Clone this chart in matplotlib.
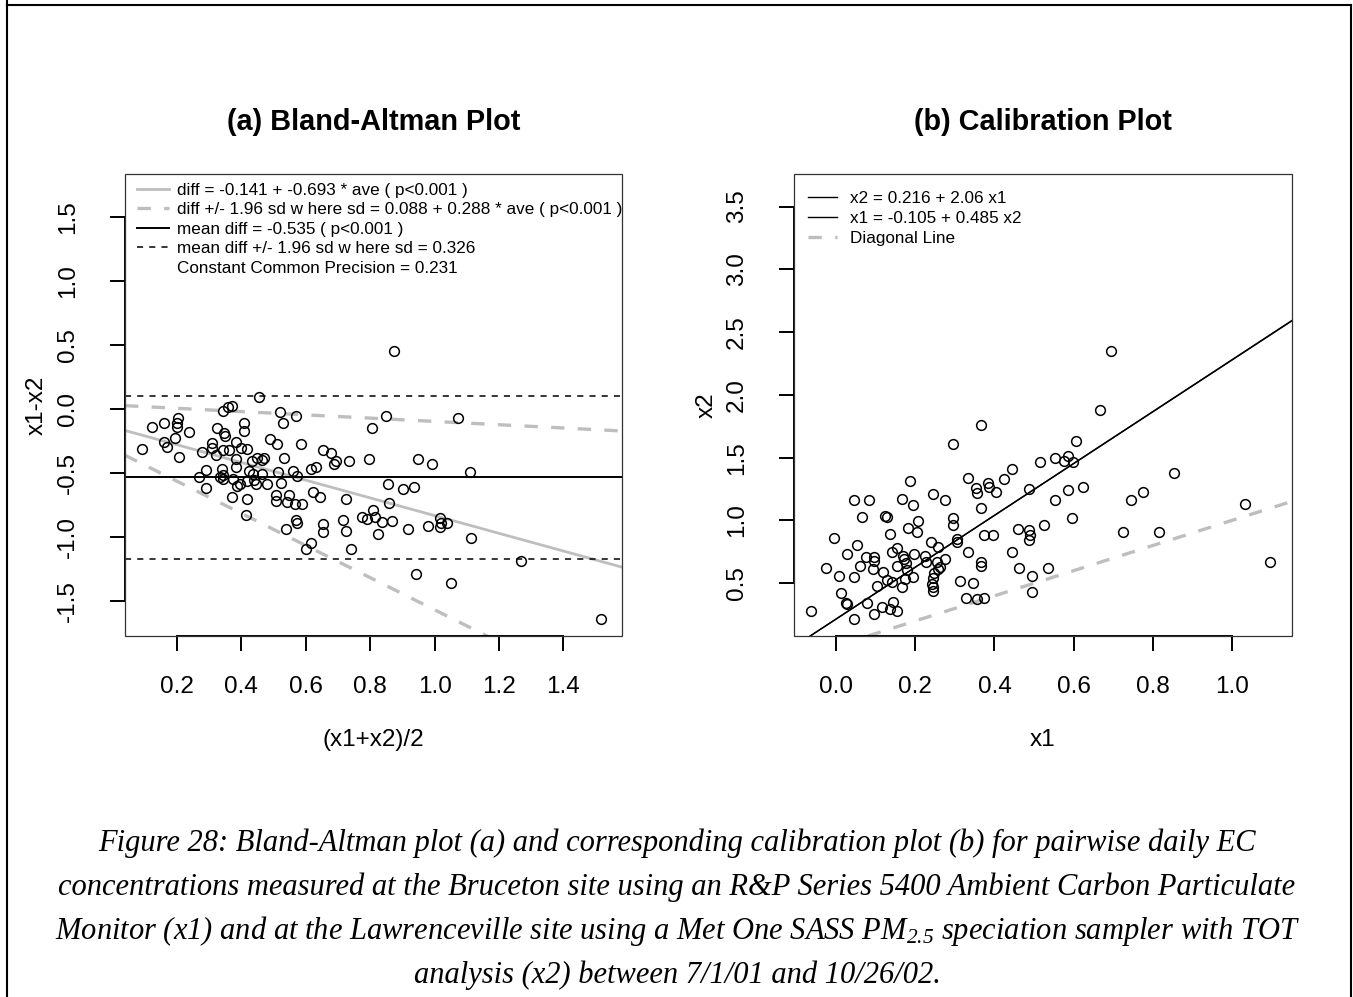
import matplotlib
matplotlib.use("Agg")
import matplotlib.pyplot as plt
from matplotlib.lines import Line2D
from matplotlib.patches import Rectangle

plt.rcParams["font.family"] = ["Liberation Sans", "DejaVu Sans"]
plt.rcParams["axes.unicode_minus"] = False
plt.rcParams["mathtext.fontset"] = "custom"
plt.rcParams["mathtext.rm"] = "Liberation Serif:italic"
plt.rcParams["mathtext.it"] = "Liberation Serif:italic"

# ---- data ----
# (a) Bland-Altman: average (x1+x2)/2 and difference x1-x2
ba_ave = [
    0.455, 0.344, 0.359, 0.370, 0.520, 0.569, 0.528, 0.409, 0.409, 0.325,
    0.346, 0.349, 0.202, 0.199, 0.199, 0.161, 0.121, 0.237, 0.194, 0.161,
    0.170, 0.092, 0.206, 0.279, 0.308, 0.308, 0.321, 0.344, 0.361, 0.383,
    0.399, 0.416, 0.489, 0.510, 0.585, 0.383, 0.432, 0.448, 0.463, 0.470,
    0.533, 0.652, 0.678, 0.693, 0.689, 0.734, 0.797, 0.289, 0.339, 0.344,
    0.342, 0.383, 0.425, 0.437, 0.463, 0.515, 0.559, 0.574, 0.616, 0.631,
    0.269, 0.289, 0.334, 0.375, 0.385, 0.396, 0.416, 0.439, 0.445, 0.480,
    0.523, 0.372, 0.416, 0.507, 0.507, 0.541, 0.548, 0.566, 0.587, 0.623,
    0.644, 0.725, 0.413, 0.538, 0.570, 0.572, 0.654, 0.654, 0.716, 0.725,
    0.775, 0.791, 0.810, 0.815, 0.823, 0.615, 0.601, 0.739, 0.805,
    0.874, 0.849, 1.074, 0.949, 0.993, 1.110, 0.856, 0.901, 0.936, 0.859,
    0.836, 0.869, 0.918, 0.979, 1.017, 1.019, 1.039, 1.017, 1.113, 1.267,
    0.941, 1.051, 1.517,
]
ba_diff = [
    0.092, -0.013, 0.018, 0.023, -0.026, -0.055, -0.112, -0.112, -0.172, -0.151,
    -0.190, -0.211, -0.073, -0.107, -0.143, -0.112, -0.143, -0.177, -0.229, -0.261,
    -0.295, -0.313, -0.373, -0.334, -0.269, -0.308, -0.360, -0.321, -0.321, -0.261,
    -0.303, -0.313, -0.237, -0.276, -0.274, -0.394, -0.407, -0.386, -0.399, -0.386,
    -0.386, -0.321, -0.347, -0.405, -0.433, -0.407, -0.394, -0.477, -0.472, -0.516,
    -0.548, -0.456, -0.485, -0.511, -0.511, -0.495, -0.485, -0.524, -0.472, -0.456,
    -0.530, -0.616, -0.534, -0.548, -0.603, -0.587, -0.563, -0.556, -0.587, -0.589,
    -0.577, -0.686, -0.707, -0.673, -0.717, -0.725, -0.673, -0.743, -0.743, -0.647,
    -0.686, -0.707, -0.829, -0.939, -0.869, -0.890, -0.900, -0.960, -0.869, -0.952,
    -0.843, -0.863, -0.790, -0.843, -0.978, -1.051, -1.095, -1.098, -0.151,
    0.454, -0.055, -0.068, -0.394, -0.430, -0.490, -0.589, -0.626, -0.613, -0.733,
    -0.887, -0.876, -0.939, -0.915, -0.850, -0.890, -0.890, -0.921, -1.012, -1.189,
    -1.294, -1.364, -1.643,
]

# (b) calibration: x1 vs x2
cal_x1 = [
    -0.064, 0.366, 0.295, 0.186, 0.334, 0.353, 0.355, 0.384, 0.386, 0.405,
    0.424, 0.445, 0.366, 0.045, 0.083, 0.166, 0.193, 0.244, 0.276, 0.065,
    0.122, 0.129, 0.206, 0.182, 0.205, 0.136, -0.005, 0.053, 0.026, -0.026,
    0.007, 0.045, 0.013, 0.024, 0.026, 0.045, 0.077, 0.095, 0.116, 0.136,
    0.144, 0.154, 0.103, 0.060, 0.075, 0.096, 0.096, 0.092, 0.118, 0.127,
    0.140, 0.167, 0.174, 0.153, 0.142, 0.154, 0.168, 0.171, 0.175, 0.195,
    0.179, 0.197, 0.224, 0.226, 0.239, 0.258, 0.254, 0.262, 0.274, 0.258,
    0.247, 0.244, 0.241, 0.245, 0.245, 0.296, 0.296, 0.304, 0.304, 0.334,
    0.314, 0.346, 0.327, 0.355, 0.374, 0.366, 0.366, 0.373, 0.397, 0.444,
    0.460, 0.462,
    0.695, 0.667, 0.605, 0.554, 0.585, 0.577, 0.598, 0.514, 0.487, 0.554,
    0.585, 0.623, 0.854, 0.745, 0.776, 1.034, 0.597, 0.526, 0.487, 0.491,
    0.487, 0.726, 0.816, 0.535, 0.494, 0.494, 1.097,
]
cal_x2 = [
    0.280, 1.758, 1.609, 1.314, 1.336, 1.256, 1.217, 1.296, 1.264, 1.225,
    1.328, 1.410, 1.102, 1.166, 1.166, 1.169, 1.126, 1.211, 1.166, 1.028,
    1.033, 1.028, 0.994, 0.938, 0.908, 0.890, 0.858, 0.807, 0.731, 0.619,
    0.560, 0.550, 0.425, 0.346, 0.333, 0.216, 0.341, 0.253, 0.311, 0.293,
    0.354, 0.279, 0.481, 0.640, 0.707, 0.712, 0.675, 0.611, 0.590, 0.526,
    0.510, 0.473, 0.532, 0.638, 0.749, 0.779, 0.717, 0.691, 0.659, 0.550,
    0.608, 0.731, 0.717, 0.672, 0.831, 0.791, 0.672, 0.632, 0.693, 0.614,
    0.580, 0.540, 0.492, 0.473, 0.441, 1.018, 0.964, 0.850, 0.831, 0.747,
    0.521, 0.500, 0.385, 0.373, 0.385, 0.672, 0.640, 0.885, 0.885, 0.747,
    0.932, 0.624,
    2.350, 1.880, 1.633, 1.495, 1.516, 1.474, 1.463, 1.463, 1.251, 1.163,
    1.243, 1.264, 1.376, 1.163, 1.229, 1.129, 1.018, 0.964, 0.924, 0.885,
    0.845, 0.906, 0.906, 0.624, 0.560, 0.433, 0.672,
]

# fitted lines
ba_int, ba_slope = -0.141, -0.693
sd_int, sd_slope = 0.088, 0.288
mean_diff, sd_const = -0.535, 0.326
cal_int, cal_slope = 0.216, 2.06
inv_int, inv_slope = -0.105, 0.485

ba_labels = [
    "diff = -0.141 + -0.693 * ave ( p<0.001 )",
    "diff +/- 1.96 sd w here sd = 0.088 + 0.288 * ave ( p<0.001 )",
    "mean diff = -0.535 ( p<0.001 )",
    "mean diff +/- 1.96 sd w here sd = 0.326",
    "Constant Common Precision = 0.231",
]
cal_labels = ["x2 = 0.216 + 2.06 x1", "x1 = -0.105 + 0.485 x2", "Diagonal Line"]

caption = [
    "Figure 28: Bland-Altman plot (a) and corresponding calibration plot (b) for pairwise daily EC",
    "concentrations measured at the Bruceton site using an R&P Series 5400 Ambient Carbon Particulate",
    "Monitor (x1) and at the Lawrenceville site using a Met One SASS PM$_{2.5}$ speciation sampler with TOT",
    "analysis (x2) between 7/1/01 and 10/26/02.",
]

W, H = 1353, 997
GRAY = "#BEBEBE"
fig = plt.figure(figsize=(W / 100, H / 100), dpi=100)


def box(l, t, r, b):
    return [l / W, 1 - b / H, (r - l) / W, (b - t) / H]


def r_style(ax, xticks, yticks, xlim, ylim):
    ax.set_xlim(*xlim)
    ax.set_ylim(*ylim)
    ax.set_xticks(xticks)
    ax.set_yticks(yticks)
    ax.set_xticklabels(["%.1f" % v for v in xticks])
    ax.set_yticklabels(["%.1f" % v for v in yticks])
    for s in ["top", "right"]:
        ax.spines[s].set_visible(False)
    ax.spines["bottom"].set_bounds(xticks[0], xticks[-1])
    ax.spines["left"].set_bounds(yticks[0], yticks[-1])
    for s in ["bottom", "left"]:
        ax.spines[s].set_linewidth(1.4)
    ax.add_patch(Rectangle((0, 0), 1, 1, transform=ax.transAxes, fill=False,
                           lw=0.9, edgecolor="#333333", clip_on=False, zorder=5))
    ax.tick_params(direction="out", length=11, width=1.4, labelsize=17.5)
    ax.tick_params(axis="x", pad=17.5)
    ax.tick_params(axis="y", pad=22, labelrotation=90)
    for lab in ax.get_yticklabels():
        lab.set_va("center")


# ---- (a) Bland-Altman ----
ax1 = fig.add_axes(box(125, 174, 622, 636))
xl1 = (0.0385, 1.582)
r_style(ax1, [0.2, 0.4, 0.6, 0.8, 1.0, 1.2, 1.4], [-1.5, -1.0, -0.5, 0.0, 0.5, 1.0, 1.5],
        xl1, (-1.776, 1.839))
xs = [xl1[0], 0.3, 0.6, 0.9, 1.2, xl1[1]]
fit = [ba_int + ba_slope * v for v in xs]
up = [f + 1.96 * (sd_int + sd_slope * v) for f, v in zip(fit, xs)]
lo = [f - 1.96 * (sd_int + sd_slope * v) for f, v in zip(fit, xs)]
h1, = ax1.plot(xs, fit, color=GRAY, lw=2.0)
h2, = ax1.plot(xs, up, color=GRAY, lw=2.4, dashes=(4, 4))
ax1.plot(xs, lo, color=GRAY, lw=2.4, dashes=(4, 4))
h3 = ax1.axhline(mean_diff, color="black", lw=1.4)
h4 = ax1.axhline(mean_diff + 1.96 * sd_const, color="black", lw=1.1, dashes=(4, 4))
ax1.axhline(mean_diff - 1.96 * sd_const, color="black", lw=1.1, dashes=(4, 4))
ax1.plot(ba_ave, ba_diff, "o", ms=7, mfc="none", mec="black", mew=1.1, zorder=4)
h5 = Line2D([], [], color="none")
ax1.legend([h1, h2, h3, h4, h5], ba_labels, loc="upper left",
           bbox_to_anchor=(137 / W, 1 - 183 / H), bbox_transform=fig.transFigure,
           frameon=False, fontsize=12.3, borderpad=0, borderaxespad=0,
           handlelength=1.9, handletextpad=0.45, labelspacing=0.26)

# ---- (b) Calibration ----
ax2 = fig.add_axes(box(794, 174, 1292, 636))
xl2 = (-0.107, 1.1525)
r_style(ax2, [0.0, 0.2, 0.4, 0.6, 0.8, 1.0], [0.5, 1.0, 1.5, 2.0, 2.5, 3.0, 3.5],
        xl2, (0.080, 3.759))
g1 = ax2.axline((0, cal_int), slope=cal_slope, color="black", lw=1.0)
g2 = ax2.axline((inv_int, 0), slope=1 / inv_slope, color="black", lw=1.0)
g3 = ax2.axline((0, 0), slope=1, color=GRAY, lw=2.4, dashes=(4, 4))
ax2.plot(cal_x1, cal_x2, "o", ms=7, mfc="none", mec="black", mew=1.1, zorder=4)
ax2.legend([g1, g2, g3], cal_labels, loc="upper left",
           bbox_to_anchor=(808 / W, 1 - 191 / H), bbox_transform=fig.transFigure,
           frameon=False, fontsize=12.3, borderpad=0, borderaxespad=0,
           handlelength=1.7, handletextpad=0.75, labelspacing=0.3)

# titles and axis labels
fig.text(373.5 / W, 1 - 122 / H, "(a) Bland-Altman Plot", ha="center", va="center",
         fontsize=20.8, fontweight="bold")
fig.text(1043 / W, 1 - 122 / H, "(b) Calibration Plot", ha="center", va="center",
         fontsize=20.8, fontweight="bold")
fig.text(373.5 / W, 1 - 740 / H, "(x1+x2)/2", ha="center", va="center", fontsize=17.5)
fig.text(1043 / W, 1 - 740 / H, "x1", ha="center", va="center", fontsize=17.5)
fig.text(37 / W, 1 - 405 / H, "x1-x2", ha="center", va="center", fontsize=17.5, rotation=90)
fig.text(707 / W, 1 - 405 / H, "x2", ha="center", va="center", fontsize=17.5, rotation=90)

# caption
for i, line in enumerate(caption):
    fig.text(677 / W, 1 - (843 + 44 * i) / H, line, ha="center", va="center",
             fontsize=22, family="Liberation Serif", style="italic")

# page frame
for xd, yd in [((7, 7), (0, 5)), ((7, 1351), (5, 5)), ((1351, 1351), (5, 997))]:
    fig.add_artist(Line2D([v / W for v in xd], [1 - v / H for v in yd],
                          color="black", lw=1.5))
fig.add_artist(Line2D([7 / W, 7 / W], [1 - 5 / H, 0], color="black", lw=1.5))

fig.savefig("out.png", dpi=100)
